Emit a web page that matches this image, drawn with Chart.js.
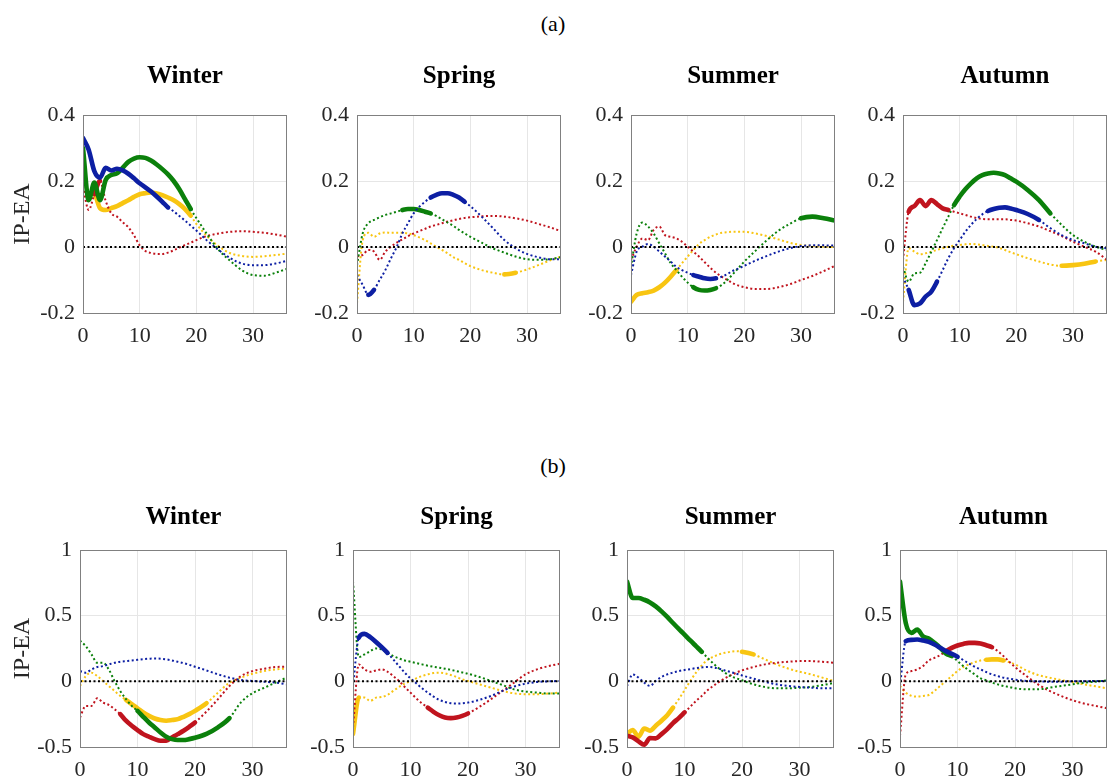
<!DOCTYPE html>
<html>
<head>
<meta charset="utf-8">
<script src="https://cdn.jsdelivr.net/npm/chart.js@4.4.1/dist/chart.umd.min.js"></script>
<style>
  html, body { margin: 0; padding: 0; background: #fff; }
  body { width: 1108px; height: 781px; position: relative; overflow: hidden; font-family: 'Liberation Serif', serif; }
  canvas { position: absolute; }
  .tag { position: absolute; font-size: 22px; color: #000; transform: translate(-50%, -50%); }
</style>
</head>
<body>
<div class="tag" style="left:553px;top:24px">(a)</div>
<div class="tag" style="left:553px;top:466px">(b)</div>
<script>
// horizon (months)
const months = [0,1,2,3,4,5,6,7,8,9,10,11,12,13,14,15,16,17,18,19,20,22,24,26,28,30,32,34,36];
const xTicks = [0, 10, 20, 30];
const yTicksA = [-0.2, 0, 0.2, 0.4];
const yTicksB = [-0.5, 0, 0.5, 1];
const seasons = ['Winter', 'Spring', 'Summer', 'Autumn'];

// (a) responses
const aWinterBlue   = [.33,.295,.23,.21,.24,.232,.237,.232,.222,.208, .193,.181,.168,.153,.137,.12,.108,.094,.08,.065,.05, .018,-.01,-.034,-.05,-.055,-.055,-.05,-.042];
const aWinterGreen  = [.30,.142,.195,.142,.203,.218,.223,.24,.258,.268, .272,.27,.262,.25,.236,.22,.2,.175,.145,.115,.088, .036,-.01,-.042,-.07,-.085,-.087,-.078,-.066];
const aWinterYellow = [.25,.163,.16,.118,.112,.118,.124,.133,.142,.152, .16,.163,.165,.162,.157,.15,.142,.13,.115,.095,.07, .031,.001,-.019,-.027,-.03,-.028,-.024,-.02];
const aWinterRed    = [.183,.112,.16,.2,.14,.102,.092,.075,.06,.035, .005,-.012,-.018,-.021,-.021,-.017,-.01,-.002,.006,.013,.021, .034,.041,.046,.048,.046,.043,.038,.031];

const aSpringBlue   = [-.085,-.115,-.145,-.13,-.1,-.07,-.034,0,.041,.072, .102,.122,.137,.15,.158,.163,.163,.158,.15,.137,.124, .092,.057,.021,-.004,-.021,-.031,-.037,-.037];
const aSpringGreen  = [-.055,.041,.072,.082,.09,.097,.102,.107,.112,.115, .115,.112,.107,.102,.094,.084,.074,.064,.052,.041,.031, .013,-.004,-.017,-.029,-.037,-.039,-.037,-.031];
const aSpringYellow = [-.17,.02,.043,.031,.041,.044,.043,.043,.043,.041, .036,.029,.021,.011,.001,-.009,-.019,-.031,-.039,-.049,-.058, -.07,-.078,-.083,-.078,-.068,-.055,-.041,-.029];
const aSpringRed    = [-.029,-.024,-.009,-.014,-.039,-.014,.001,.013,.023,.033, .041,.048,.055,.062,.067,.072,.077,.081,.085,.088,.09, .093,.094,.092,.087,.08,.07,.06,.048];

const aSummerBlue   = [-.085,-.014,.001,.009,.001,-.014,-.029,-.044,-.06,-.07, -.078,-.085,-.09,-.095,-.097,-.095,-.09,-.082,-.072,-.065,-.057, -.041,-.027,-.014,-.004,.003,.005,.005,.004];
const aSummerGreen  = [-.06,.041,.074,.062,.041,.011,-.019,-.049,-.07,-.09, -.108,-.122,-.13,-.132,-.13,-.125,-.115,-.1,-.082,-.063,-.044, -.011,.021,.049,.07,.087,.092,.087,.08];
const aSummerYellow = [-.166,-.145,-.14,-.137,-.132,-.122,-.108,-.09,-.07,-.049, -.029,-.009,.009,.021,.031,.038,.043,.045,.046,.046,.046, .041,.033,.023,.013,.006,.003,.001,0];
const aSummerRed    = [-.039,.001,.026,.021,.052,.062,.036,.031,.026,.016, .001,-.014,-.029,-.046,-.063,-.078,-.09,-.1,-.11,-.117,-.122, -.127,-.127,-.122,-.113,-.1,-.088,-.073,-.057];

const aAutumnBlue   = [-.09,-.13,-.176,-.171,-.15,-.135,-.105,-.07,-.034,-.004, .021,.046,.067,.085,.099,.109,.115,.119,.12,.117,.112, .1,.082,.057,.036,.021,.011,.001,-.004];
const aAutumnGreen  = [-.06,-.105,-.08,-.078,-.049,-.014,.021,.057,.092,.127, .153,.175,.193,.208,.218,.223,.225,.223,.218,.208,.198, .173,.142,.102,.067,.036,.016,.001,-.009];
const aAutumnYellow = [-.166,-.004,-.014,-.022,-.019,-.014,-.009,-.004,.001,.004, .006,.008,.009,.008,.006,.003,.001,-.003,-.009,-.016,-.022, -.034,-.044,-.053,-.057,-.055,-.051,-.044,-.039];
const aAutumnRed    = [-.039,.107,.124,.142,.124,.142,.13,.117,.112,.107, .102,.097,.092,.088,.085,.084,.084,.084,.084,.082,.08, .072,.062,.048,.033,.016,.001,-.014,-.039];

// (b) responses
const bWinterBlue   = [.078,.066,.091,.109,.116,.129,.141,.149,.154,.159, .164,.169,.172,.174,.172,.167,.159,.149,.139,.126,.111, .083,.053,.028,.01,.003,-.003,-.01,-.023];
const bWinterGreen  = [.31,.268,.205,.141,.141,.091,.003,-.073,-.136,-.187, -.225,-.27,-.313,-.351,-.389,-.422,-.44,-.447,-.447,-.44,-.43, -.4,-.35,-.28,-.16,-.09,-.05,-.01,.03];
const bWinterYellow = [-.035,.04,.066,.04,.003,-.035,-.073,-.111,-.141,-.174, -.205,-.237,-.263,-.283,-.295,-.3,-.295,-.288,-.27,-.25,-.225, -.167,-.086,-.01,.028,.058,.078,.091,.098];
const bWinterRed    = [-.275,-.187,-.187,-.129,-.162,-.179,-.212,-.25,-.3,-.338, -.371,-.402,-.422,-.44,-.452,-.452,-.427,-.402,-.376,-.346,-.313, -.23,-.136,-.035,.04,.078,.096,.109,.111];

const bSpringBlue   = [-.035,.331,.361,.336,.3,.26,.217,.167,.116,.066, .023,-.015,-.053,-.086,-.116,-.141,-.157,-.167,-.169,-.167,-.162, -.141,-.111,-.073,-.04,-.018,-.005,0,.003];
const bSpringGreen  = [.76,.184,.205,.23,.25,.242,.217,.192,.174,.159, .149,.139,.129,.119,.111,.104,.096,.088,.078,.068,.058, .033,.003,-.028,-.061,-.078,-.086,-.093,-.093];
const bSpringYellow = [-.4,-.124,-.124,-.149,-.124,-.119,-.104,-.073,-.043,-.018, .003,.023,.04,.053,.063,.066,.061,.048,.033,.015,.003, -.023,-.048,-.073,-.091,-.098,-.098,-.093,-.086];
const bSpringRed    = [-.35,.129,.091,.073,.083,.091,.073,.04,.003,-.043, -.086,-.129,-.167,-.2,-.232,-.258,-.275,-.28,-.275,-.263,-.245, -.194,-.136,-.073,-.01,.053,.091,.116,.134];

const bSummerBlue   = [-.035,.053,.028,-.01,-.035,.003,.033,.053,.066,.078, .086,.093,.101,.106,.109,.106,.096,.083,.071,.058,.045, .02,-.003,-.023,-.035,-.043,-.048,-.053,-.053];
const bSummerGreen  = [.76,.634,.634,.621,.601,.571,.533,.49,.444,.399, .356,.311,.268,.225,.179,.136,.098,.066,.04,.023,.008, -.023,-.043,-.053,-.053,-.048,-.043,-.028,-.013];
const bSummerYellow = [-.4,-.371,-.422,-.359,-.376,-.338,-.3,-.258,-.2,-.136, -.068,.003,.066,.121,.164,.187,.205,.217,.225,.23,.225, .205,.167,.129,.098,.073,.053,.028,.003];
const bSummerRed    = [-.414,-.427,-.457,-.482,-.432,-.434,-.402,-.364,-.318,-.28, -.237,-.194,-.149,-.111,-.068,-.035,-.005,.023,.045,.066,.083, .109,.129,.141,.149,.154,.154,.149,.141];

const bAutumnBlue   = [-.035,.306,.316,.318,.311,.3,.28,.255,.23,.21, .187,.162,.136,.111,.091,.071,.053,.04,.028,.02,.013, .003,0,-.003,-.003,0,0,.003,.003];
const bAutumnGreen  = [.76,.444,.369,.394,.343,.326,.293,.255,.21,.192, .154,.116,.083,.053,.023,.008,-.01,-.023,-.035,-.043,-.053, -.061,-.061,-.048,-.035,-.023,-.01,-.003,.008];
const bAutumnYellow = [-.035,-.086,-.111,-.116,-.111,-.104,-.073,-.035,.003,.04, .078,.109,.129,.146,.159,.164,.167,.167,.159,.146,.129, .083,.048,.028,.01,-.005,-.023,-.038,-.053];
const bAutumnRed    = [-.414,.053,.078,.091,.116,.159,.179,.2,.23,.255, .273,.285,.293,.293,.288,.275,.26,.23,.192,.149,.109, .04,-.023,-.073,-.111,-.144,-.169,-.187,-.205];

// significant stretches (month ranges drawn thick)
const sig = {
  aWinterBlue: [[0,15]], aWinterGreen: [[0,19]], aWinterYellow: [[2,19]], aWinterRed: [[2,3]],
  aSpringBlue: [[2,3],[13,19]], aSpringGreen: [[8,13]], aSpringYellow: [[26,28]], aSpringRed: [],
  aSummerBlue: [[11,15]], aSummerGreen: [[11,15],[30,36]], aSummerYellow: [[0,8]], aSummerRed: [],
  aAutumnBlue: [[1,6],[15,24]], aAutumnGreen: [[9,26]], aAutumnYellow: [[28,34]], aAutumnRed: [[1,8]],
  bWinterBlue: [], bWinterGreen: [[10,26]], bWinterYellow: [[8,22]], bWinterRed: [[7,20]],
  bSpringBlue: [[1,6]], bSpringGreen: [], bSpringYellow: [[0,1]], bSpringRed: [[13,20]],
  bSummerBlue: [], bSummerGreen: [[0,13]], bSummerYellow: [[0,8],[20,22]], bSummerRed: [[0,10]],
  bAutumnBlue: [[1,10]], bAutumnGreen: [[0,9]], bAutumnYellow: [[15,18]], bAutumnRed: [[8,16]]
};

const series = {
  aWinterBlue, aWinterGreen, aWinterYellow, aWinterRed,
  aSpringBlue, aSpringGreen, aSpringYellow, aSpringRed,
  aSummerBlue, aSummerGreen, aSummerYellow, aSummerRed,
  aAutumnBlue, aAutumnGreen, aAutumnYellow, aAutumnRed,
  bWinterBlue, bWinterGreen, bWinterYellow, bWinterRed,
  bSpringBlue, bSpringGreen, bSpringYellow, bSpringRed,
  bSummerBlue, bSummerGreen, bSummerYellow, bSummerRed,
  bAutumnBlue, bAutumnGreen, bAutumnYellow, bAutumnRed
};

const colors = { Blue: '#0d1fa3', Green: '#0b800b', Red: '#c0141e', Yellow: '#f8c512' };
const zeroLine = months.map(() => 0);

const FONT = "'Liberation Serif', 'Times New Roman', serif";
const DOT = [2, 2.5];

// box + panel title
const panelDeco = {
  id: 'panelDeco',
  afterDraw(chart, args, opts) {
    const { ctx, chartArea: a } = chart;
    ctx.save();
    ctx.strokeStyle = '#808080';
    ctx.lineWidth = 1;
    ctx.strokeRect(a.left + 0.5, a.top + 0.5, a.right - a.left - 1, a.bottom - a.top);
    ctx.fillStyle = '#000';
    ctx.font = 'bold 25px ' + FONT;
    ctx.textAlign = 'center';
    ctx.textBaseline = 'alphabetic';
    ctx.fillText(opts.text, (a.left + a.right) / 2, a.top - opts.gap);
    ctx.restore();
  }
};

function lineSet(vals, color, ranges) {
  const inSig = c => ranges.some(r => c.p0.parsed.x >= r[0] && c.p1.parsed.x <= r[1]);
  return {
    data: months.map((m, i) => ({ x: m, y: vals[i] })),
    borderColor: color,
    borderWidth: 2,
    borderDash: DOT,
    borderCapStyle: 'butt',
    pointRadius: 0,
    fill: false,
    clip: 0,
    cubicInterpolationMode: 'monotone',
    segment: {
      borderWidth: c => inSig(c) ? 4.6 : 2,
      borderDash: c => inSig(c) ? [] : DOT,
      borderCapStyle: c => inSig(c) ? 'round' : 'butt'
    }
  };
}

function makePanel(row, col) {
  const top = row === 'a';
  const plotLeft = top ? [83, 357, 631, 903][col] : [80, 353, 627, 900][col];
  const plotW = top ? 204 : 207;
  const plotTop = top ? 115 : 550;
  const plotH = top ? 198 : 197;
  const yW = col === 0 ? plotLeft : 62;
  const topPad = 70, xH = 40, rightPad = col === 3 ? 1 : 4;

  const cv = document.createElement('canvas');
  cv.width = yW + plotW + rightPad;
  cv.height = topPad + plotH + xH;
  cv.style.left = (plotLeft - yW) + 'px';
  cv.style.top = (plotTop - topPad) + 'px';
  document.body.appendChild(cv);

  const key = row + seasons[col];
  const datasets = [{
    data: months.map((m, i) => ({ x: m, y: zeroLine[i] })),
    borderColor: '#000', borderWidth: 2, borderDash: DOT, pointRadius: 0, clip: 0
  }];
  ['Blue', 'Green', 'Red', 'Yellow'].forEach(c => {
    datasets.push(lineSet(series[key + c], colors[c], sig[key + c]));
  });

  const yTicks = top ? yTicksA : yTicksB;
  new Chart(cv, {
    type: 'line',
    data: { datasets },
    plugins: [panelDeco],
    options: {
      responsive: false,
      animation: false,
      devicePixelRatio: 1,
      layout: { padding: { top: topPad, right: rightPad, left: 0, bottom: 0 } },
      plugins: {
        legend: { display: false },
        tooltip: { enabled: false },
        panelDeco: { text: seasons[col], gap: top ? 32 : 26 }
      },
      scales: {
        x: {
          type: 'linear', min: 0, max: 36,
          afterBuildTicks: s => { s.ticks = xTicks.map(v => ({ value: v })); },
          afterFit: s => { s.height = xH; },
          ticks: { font: { family: FONT, size: 22 }, color: '#262626', padding: 10, maxRotation: 0, autoSkip: false, callback: v => String(v) },
          grid: { color: '#e6e6e6', drawTicks: false, tickLength: 0 },
          border: { display: false }
        },
        y: {
          type: 'linear', min: yTicks[0], max: yTicks[yTicks.length - 1],
          afterBuildTicks: s => { s.ticks = yTicks.map(v => ({ value: v })); },
          afterFit: s => { s.width = yW; },
          ticks: { font: { family: FONT, size: 22 }, color: '#262626', padding: 8, autoSkip: false, callback: v => String(v) },
          grid: { color: '#e6e6e6', drawTicks: false, tickLength: 0 },
          border: { display: false },
          title: { display: col === 0, text: 'IP-EA', font: { family: FONT, size: 24 }, color: '#262626', padding: { top: 8, bottom: 0 } }
        }
      }
    }
  });
}

['a', 'b'].forEach(row => {
  for (let col = 0; col < 4; col++) makePanel(row, col);
});
</script>
</body>
</html>
